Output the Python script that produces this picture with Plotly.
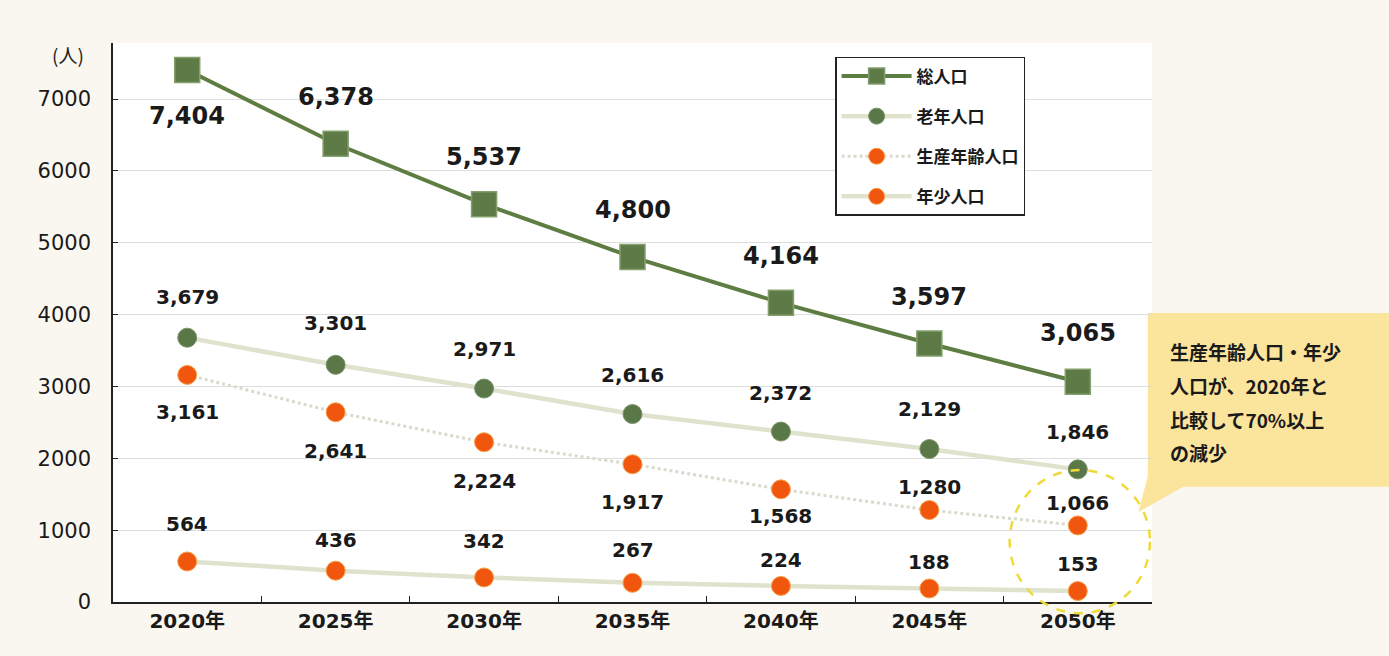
import plotly.graph_objects as go

years = ["2020年", "2025年", "2030年", "2035年", "2040年", "2045年", "2050年"]
total = [7404, 6378, 5537, 4800, 4164, 3597, 3065]
elderly = [3679, 3301, 2971, 2616, 2372, 2129, 1846]
working = [3161, 2641, 2224, 1917, 1568, 1280, 1066]
youth = [564, 436, 342, 267, 224, 188, 153]
callout_lines = ["生産年齢人口・年少", "人口が、2020年と", "比較して70%以上", "の減少"]

# label offsets (px, style)
total_shift = [-46, 47, 47, 47, 47, 47, 49]
elderly_shift = [41, 42, 40, 39, 39, 40, 37]
working_shift = [-37, -39, -39, -38, -27, 23, 22]
youth_shift = [37, 31, 36, 33, 26, 26, 27]

LABEL_FONT = "DejaVu Sans"
fig = go.Figure()

fig.add_trace(go.Scatter(
    x=years, y=total, name="総人口", mode="lines+markers",
    line=dict(color="#5e7d42", width=4),
    marker=dict(symbol="square", size=25, color="#5e7b47", line=dict(color="#83a06c", width=1.5)),
    legendgroup="a"))
fig.add_trace(go.Scatter(
    x=years, y=elderly, name="老年人口", mode="lines+markers",
    line=dict(color="#dfe2cd", width=4.5),
    marker=dict(symbol="circle", size=19, color="#5a7748", line=dict(color="#7c9467", width=1)),
    legendgroup="b"))
fig.add_trace(go.Scatter(
    x=years, y=working, name="生産年齢人口", mode="lines+markers",
    line=dict(color="#d6dccb", width=3, dash="dot"),
    marker=dict(symbol="circle", size=19, color="#f0560e", line=dict(color="#f7a04a", width=1)),
    legendgroup="c"))
fig.add_trace(go.Scatter(
    x=years, y=youth, name="年少人口", mode="lines+markers",
    line=dict(color="#dfe2cd", width=4.5),
    marker=dict(symbol="circle", size=19, color="#f0560e", line=dict(color="#f7a04a", width=1)),
    legendgroup="d"))

annotations = []
def add_labels(vals, shifts, size):
    for x, v, s in zip(years, vals, shifts):
        annotations.append(dict(
            x=x, y=v, xref="x", yref="y", text="<b>{:,}</b>".format(v),
            showarrow=False, yshift=s, xanchor="center", yanchor="middle",
            font=dict(family=LABEL_FONT, size=size, color="#1a1a1a")))

add_labels(total, total_shift, 24)
add_labels(elderly, elderly_shift, 20)
add_labels(working, working_shift, 20)
add_labels(youth, youth_shift, 20)

annotations.append(dict(x=-0.043, y=0.979, xref="paper", yref="paper", text="(人)",
                        showarrow=False, xanchor="center", yanchor="middle",
                        font=dict(family="Noto Sans CJK JP", size=19, color="#222")))

for i, line in enumerate(callout_lines):
    annotations.append(dict(
        x=1.015, y=[0.449, 0.388, 0.326, 0.268][i], xref="paper", yref="paper",
        text="<b>" + line + "</b>", showarrow=False, xanchor="left", yanchor="middle",
        font=dict(family="Noto Sans CJK JP", size=19, color="#1a1a1a")))

shapes = [
    dict(type="rect", xref="paper", yref="paper", x0=0.996, x1=1.228, y0=0.206, y1=0.517,
         fillcolor="#fbe49c", line=dict(width=0), layer="below"),
    dict(type="path", xref="paper", yref="paper",
         path="M 0.998 0.240 L 1.030 0.206 L 0.987 0.161 Z",
         fillcolor="#fbe49c", line=dict(width=0), layer="below"),
    dict(type="circle", xref="paper", yref="paper", x0=0.863, x1=0.998, y0=-0.020, y1=0.236,
         line=dict(color="#efda3a", width=2.5, dash="dash"), layer="above"),
]

fig.update_layout(
    width=1389, height=656,
    margin=dict(l=113, r=237, t=43, b=54),
    paper_bgcolor="#faf7f1", plot_bgcolor="#ffffff",
    font=dict(family="Noto Sans CJK JP", color="#1a1a1a"),
    showlegend=True,
    legend=dict(x=0.695, y=0.975, xanchor="left", yanchor="top",
                bgcolor="#ffffff", bordercolor="#222222", borderwidth=1.5,
                font=dict(family="Noto Sans CJK JP", size=17, color="#1a1a1a", weight="bold"),
                tracegroupgap=15, itemwidth=70, traceorder="grouped"),
    annotations=annotations, shapes=shapes,
    xaxis=dict(type="category", range=[-0.5, 6.5], showline=True, linecolor="#222",
               linewidth=1.5, ticks="inside", ticklen=6, tickcolor="#222", tickson="boundaries",
               showgrid=False, mirror=False,
               tickfont=dict(family="DejaVu Sans, Noto Sans CJK JP", size=20, color="#1a1a1a", weight="bold")),
    yaxis=dict(range=[0, 7780], tickvals=[0, 1000, 2000, 3000, 4000, 5000, 6000, 7000],
               ticktext=["0", "1000", "2000", "3000", "4000", "5000", "6000", "7000"],
               showline=True, linecolor="#222", linewidth=1.5, ticks="inside", ticklen=5,
               tickcolor="#222", showgrid=True, gridcolor="#dedede", gridwidth=1,
               zeroline=False, ticklabelstandoff=16,
               tickfont=dict(family="DejaVu Sans", size=21, color="#1a1a1a")),
)

fig.write_html("out.html", config={"displayModeBar": False},
               post_script="document.body.style.margin='0';document.body.style.overflow='hidden';")
